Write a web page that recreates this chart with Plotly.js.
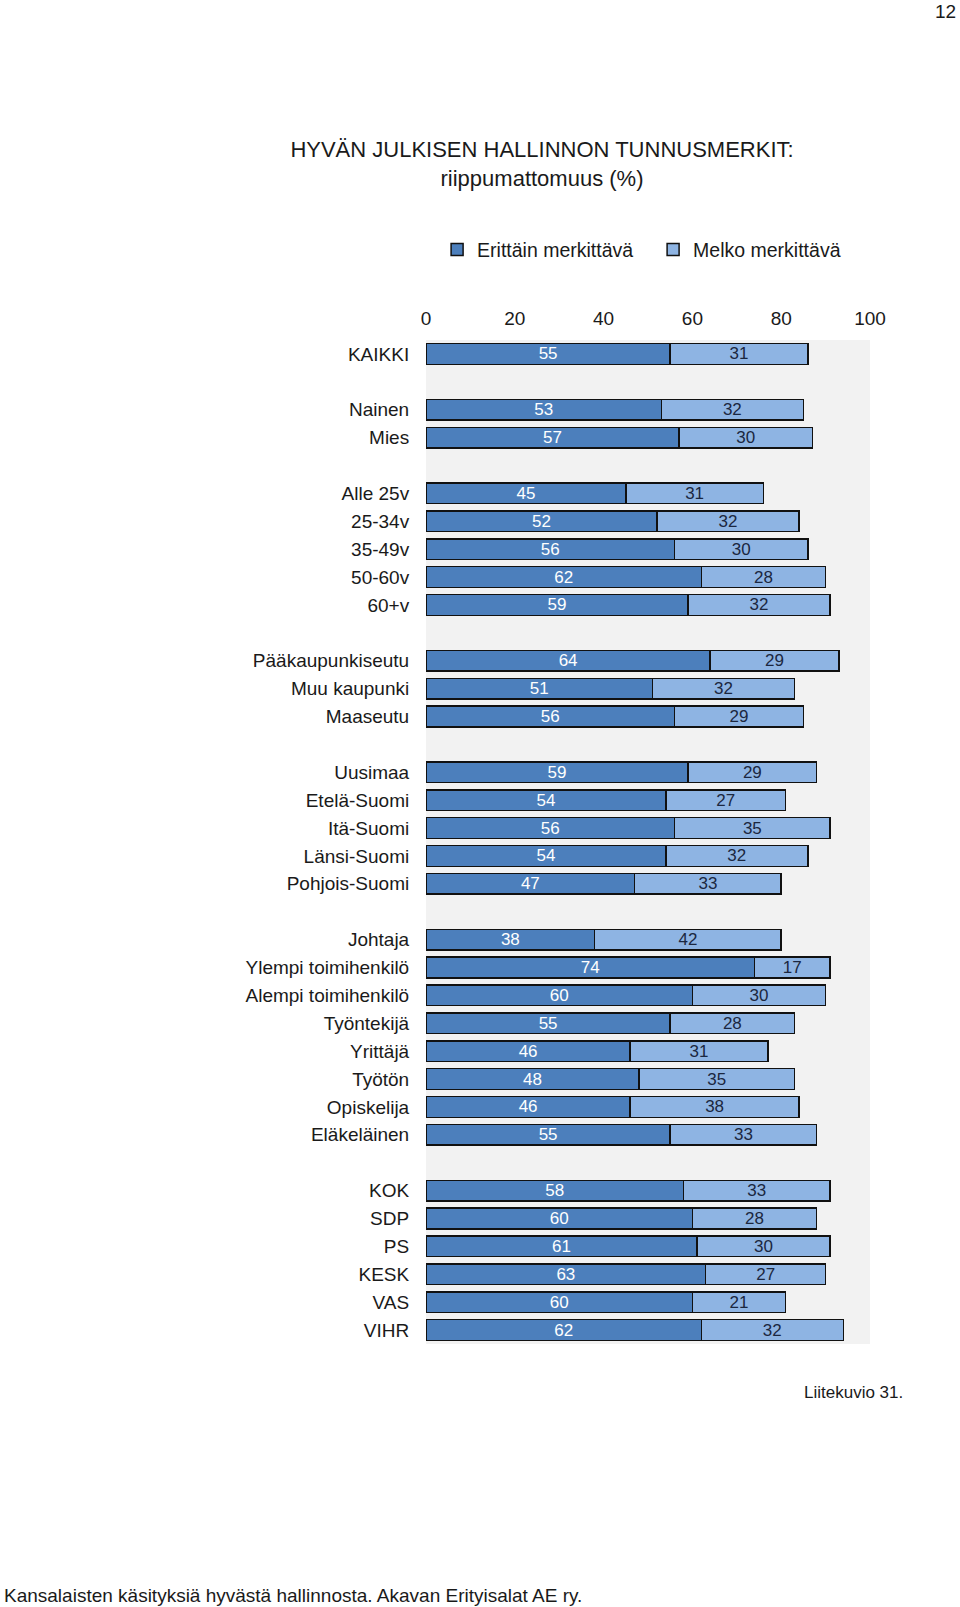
<!DOCTYPE html>
<html>
<head>
<meta charset="utf-8">
<script src="https://cdn.plot.ly/plotly-3.0.1.min.js"></script>
<style>
  html, body { margin: 0; padding: 0; background: #fff; }
  #chart { width: 960px; height: 1607px; }
</style>
</head>
<body>
<div id="chart"></div>
<script>
// ---- data ----
var categories = [
  "KAIKKI",
  "Nainen", "Mies",
  "Alle 25v", "25-34v", "35-49v", "50-60v", "60+v",
  "Pääkaupunkiseutu", "Muu kaupunki", "Maaseutu",
  "Uusimaa", "Etelä-Suomi", "Itä-Suomi", "Länsi-Suomi", "Pohjois-Suomi",
  "Johtaja", "Ylempi toimihenkilö", "Alempi toimihenkilö", "Työntekijä", "Yrittäjä", "Työtön", "Opiskelija", "Eläkeläinen",
  "KOK", "SDP", "PS", "KESK", "VAS", "VIHR"
];
var groupSizes = [1, 2, 5, 3, 5, 8, 6];
var erittain = [
  55,
  53, 57,
  45, 52, 56, 62, 59,
  64, 51, 56,
  59, 54, 56, 54, 47,
  38, 74, 60, 55, 46, 48, 46, 55,
  58, 60, 61, 63, 60, 62
];
var melko = [
  31,
  32, 30,
  31, 32, 30, 28, 32,
  29, 32, 29,
  29, 27, 35, 32, 33,
  42, 17, 30, 28, 31, 35, 38, 33,
  33, 28, 30, 27, 21, 32
];
var seriesNames = ["Erittäin merkittävä", "Melko merkittävä"];
var xTicks = [0, 20, 40, 60, 80, 100];

// ---- slot positions (one empty slot between groups) ----
var pos = [];
var slot = 0;
groupSizes.forEach(function (n) {
  for (var i = 0; i < n; i++) { pos.push(slot); slot++; }
  slot++; // gap
});
var lastSlot = pos[pos.length - 1];

var FONT = "Liberation Sans, Arial, sans-serif";
var lineStyle = { color: "#111111", width: 1.5 };

var traces = [
  {
    type: "bar", orientation: "h", name: seriesNames[0],
    x: erittain, y: pos,
    text: erittain.map(String),
    textposition: "inside", insidetextanchor: "middle", textangle: 0,
    textfont: { family: FONT, size: 17, color: "#ffffff" },
    constraintext: "none",
    marker: { color: "#4c7fbc", line: lineStyle },
    width: 0.74, hoverinfo: "skip"
  },
  {
    type: "bar", orientation: "h", name: seriesNames[1],
    x: melko, y: pos,
    text: melko.map(String),
    textposition: "inside", insidetextanchor: "middle", textangle: 0,
    textfont: { family: FONT, size: 17, color: "#1b2740" },
    constraintext: "none",
    marker: { color: "#8eb4e3", line: lineStyle },
    width: 0.74, hoverinfo: "skip"
  }
];

var layout = {
  width: 960, height: 1607,
  margin: { l: 426, r: 90, t: 340, b: 263, pad: 0 },
  paper_bgcolor: "#ffffff",
  plot_bgcolor: "#f2f2f2",
  barmode: "stack",
  bargap: 0,
  showlegend: true,
  font: { family: FONT, size: 19, color: "#1a1a1a" },
  title: {
    text: "HYVÄN JULKISEN HALLINNON TUNNUSMERKIT:<br>riippumattomuus (%)",
    font: { family: FONT, size: 22, color: "#1a1a1a" },
    x: 542 / 960, xanchor: "center", xref: "container",
    y: 1 - 157 / 1607, yanchor: "middle", yref: "container"
  },
  legend: {
    orientation: "h",
    x: 0.025, xanchor: "left",
    y: 1 + (340 - 250) / 1003, yanchor: "middle",
    traceorder: "normal",
    font: { family: FONT, size: 19.5, color: "#1a1a1a" },
    entrywidth: 171, entrywidthmode: "pixels",
    bgcolor: "rgba(0,0,0,0)"
  },
  xaxis: {
    side: "top",
    range: [0, 100],
    tickvals: xTicks,
    ticktext: xTicks.map(String),
    showgrid: false, zeroline: false, showline: false,
    ticks: "outside", ticklen: 6, tickcolor: "rgba(0,0,0,0)",
    tickfont: { family: FONT, size: 19, color: "#1a1a1a" },
    fixedrange: true
  },
  yaxis: {
    range: [lastSlot + 0.5, -0.5],
    tickvals: pos,
    ticktext: categories,
    showgrid: false, zeroline: false, showline: false,
    ticks: "outside", ticklen: 12, tickcolor: "rgba(0,0,0,0)",
    tickfont: { family: FONT, size: 19, color: "#1a1a1a" },
    fixedrange: true
  },
  annotations: [
    {
      text: "Liitekuvio 31.", xref: "paper", yref: "paper",
      x: (905 - 426) / 444, xanchor: "right",
      y: -(1391 - 1343) / 1003, yanchor: "middle",
      showarrow: false, font: { family: FONT, size: 17, color: "#1a1a1a" }
    },
    {
      text: "12", xref: "paper", yref: "paper",
      x: (958 - 426) / 444, xanchor: "right",
      y: 1 + (340 - 12) / 1003, yanchor: "middle",
      showarrow: false, font: { family: FONT, size: 19, color: "#1a1a1a" }
    },
    {
      text: "Kansalaisten käsityksiä hyvästä hallinnosta. Akavan Erityisalat AE ry.",
      xref: "paper", yref: "paper",
      x: (2 - 426) / 444, xanchor: "left",
      y: -(1594 - 1343) / 1003, yanchor: "middle",
      showarrow: false, font: { family: FONT, size: 19, color: "#1a1a1a" }
    }
  ]
};

Plotly.newPlot("chart", traces, layout, { staticPlot: true, displayModeBar: false });
</script>
</body>
</html>
